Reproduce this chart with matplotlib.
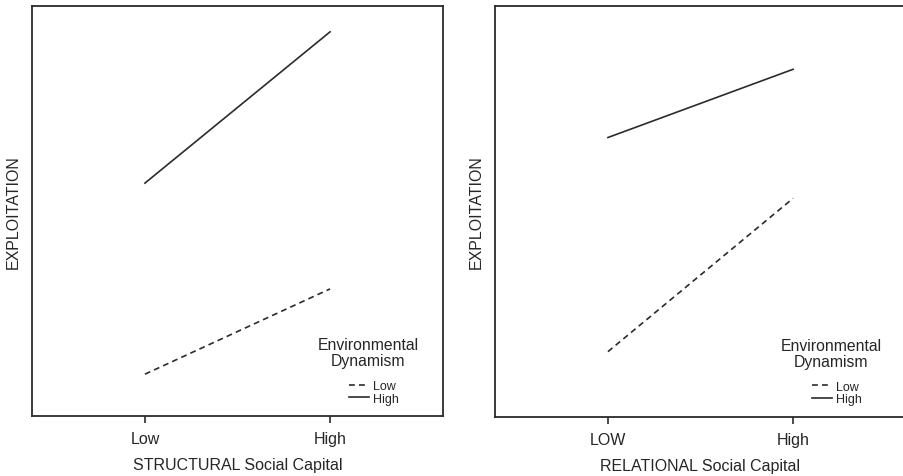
import matplotlib
matplotlib.use("Agg")
import matplotlib.pyplot as plt

plt.rcParams['font.family'] = ['Liberation Sans', 'DejaVu Sans']

# x positions: 0 = low, 1 = high
levels = [0, 1]
left_ticklabels = ["Low", "High"]
right_ticklabels = ["LOW", "High"]

# structural social capital panel
struct_low_dyn = [1.02, 3.10]
struct_high_dyn = [5.68, 9.37]

# relational social capital panel
rel_low_dyn = [1.59, 5.32]
rel_high_dyn = [6.80, 8.46]

line_color = "#2b2b2b"
text_color = "#262626"

fig = plt.figure(figsize=(9.04, 4.77), dpi=100)
ax1 = fig.add_axes([32 / 904, 60 / 477, 411 / 904, 410 / 477])
ax2 = fig.add_axes([495 / 904, 59 / 477, 411 / 904, 411 / 477])


def draw_panel(ax, low, high, ticklabels, xlabel):
    ax.plot(levels, low, linestyle=(0, (3.5, 2.5)), color=line_color, lw=1.2, label="Low")
    ax.plot(levels, high, linestyle="-", color=line_color, lw=1.2, label="High")
    ax.set_xlim(-0.61, 1.61)
    ax.set_ylim(0, 10)
    ax.set_xticks(levels)
    ax.set_xticklabels(ticklabels, fontsize=11.5, color=text_color)
    ax.set_yticks([])
    ax.tick_params(axis="x", length=5, width=1.2, color=line_color, pad=6)
    for s in ax.spines.values():
        s.set_linewidth(1.3)
        s.set_color(line_color)
    ax.set_xlabel(xlabel, fontsize=11.5, labelpad=8, color=text_color)
    ax.set_ylabel("EXPLOITATION", fontsize=11.5, labelpad=8, color=text_color)

    # legend title drawn as its own text, with a gap above the entries
    ax.text(0.818, 0.154, "Environmental\nDynamism", transform=ax.transAxes,
            ha="center", va="center", multialignment="center", fontsize=11.3,
            linespacing=1.1, color=text_color)
    leg = ax.legend(frameon=False, loc="center", bbox_to_anchor=(0.832, 0.058),
                    fontsize=9, handlelength=1.6, handletextpad=0.3,
                    labelspacing=0.05, borderpad=0, borderaxespad=0)
    for t in leg.get_texts():
        t.set_color(text_color)


draw_panel(ax1, struct_low_dyn, struct_high_dyn, left_ticklabels, "STRUCTURAL Social Capital")
draw_panel(ax2, rel_low_dyn, rel_high_dyn, right_ticklabels, "RELATIONAL Social Capital")

fig.savefig("out.png", dpi=100)
